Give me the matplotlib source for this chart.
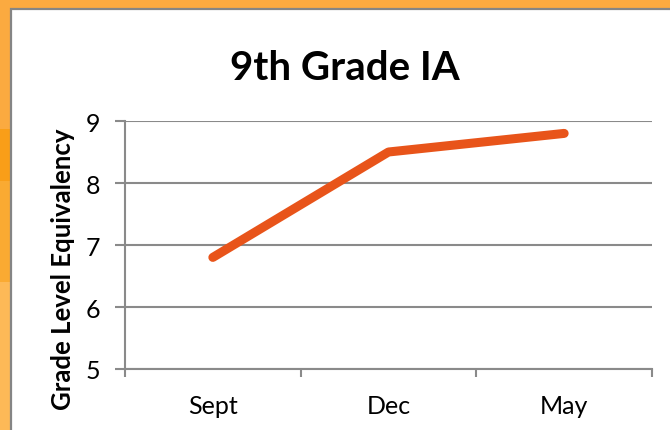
import matplotlib.pyplot as plt
from matplotlib.patches import Rectangle

# data
months = ['Sept', 'Dec', 'May']
grade_eq = [6.8, 8.5, 8.8]
y_ticks = [5, 6, 7, 8, 9]

W, H = 670, 431
fig = plt.figure(figsize=(W/100, H/100), dpi=100)
fig.patch.set_facecolor('#FCAA40')

# orange frame shading on the left strip (top px, bottom px, colour)
bands = [(0, 130, '#FBAA40'), (130, 182, '#F99E18'), (182, 283, '#FAAA32'), (283, 431, '#FDB957')]
for top, bot, col in bands:
    fig.patches.append(Rectangle((0, 1 - bot/H), 11/W, (bot - top)/H, transform=fig.transFigure,
                                 facecolor=col, edgecolor='none', zorder=-6))

# white slide panel with grey edge
panel = Rectangle((11/W, -0.01), 1, 1.01 - 10/H, transform=fig.transFigure,
                  facecolor='white', edgecolor='#858585', linewidth=1.6, zorder=-5)
fig.patches.append(panel)

ax = fig.add_axes([125/W, (H-370)/H, 527/W, 248/H])
ax.set_zorder(2)
ax.patch.set_alpha(0)

x = list(range(len(months)))
ax.plot(x, grade_eq, color='#E8541A', linewidth=6.5, solid_capstyle='round',
        solid_joinstyle='round', zorder=3)

ax.set_ylim(5, 9)
ax.set_xlim(-0.5, len(months) - 0.5)
ax.set_yticks(y_ticks)
ax.set_yticklabels([str(v) for v in y_ticks], fontsize=18, family='Lato')
ax.yaxis.grid(True, color='#8a8a8a', linewidth=1.5)
ax.set_axisbelow(True)

# category boundaries as major ticks, labels on minor ticks
ax.set_xticks([-0.5 + i for i in range(len(months) + 1)])
ax.set_xticklabels([])
ax.set_xticks(x, minor=True)
ax.set_xticklabels(months, minor=True, fontsize=18, family='Lato')
ax.tick_params(axis='x', which='major', length=6, width=1.5, color='#8a8a8a', direction='out')
ax.tick_params(axis='x', which='minor', length=0, pad=18)
ax.tick_params(axis='y', length=7, width=1.5, color='#8a8a8a', pad=11)

for s in ['top', 'right']:
    ax.spines[s].set_visible(False)
for s in ['left', 'bottom']:
    ax.spines[s].set_color('#8a8a8a')
    ax.spines[s].set_linewidth(1.5)

ax.set_ylabel('Grade Level Equivalency', fontsize=18.5, fontweight='bold',
              family='Lato', va='center')
ax.yaxis.set_label_coords(-0.118, 0.405)

fig.text(345/W, 1 - 69/H, '9th Grade IA', ha='center', va='center',
         fontsize=29, fontweight='bold', family='Lato')

fig.savefig('out.png', dpi=100, facecolor=fig.get_facecolor())
